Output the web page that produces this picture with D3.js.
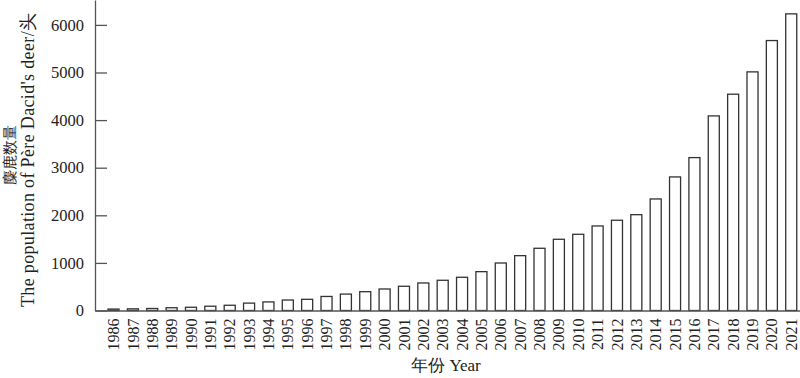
<!DOCTYPE html>
<html>
<head>
<meta charset="utf-8">
<script src="https://cdn.jsdelivr.net/npm/d3@7"></script>
<style>
  body { margin: 0; background: #fff; }
  svg { display: block; font-family: "Liberation Serif", "Times New Roman", serif; }
</style>
</head>
<body>
<div id="chart"></div>
<script>
const years = ["1986","1987","1988","1989","1990","1991","1992","1993","1994","1995",
  "1996","1997","1998","1999","2000","2001","2002","2003","2004","2005",
  "2006","2007","2008","2009","2010","2011","2012","2013","2014","2015",
  "2016","2017","2018","2019","2020","2021"]
const population = [30, 35, 42, 58, 68, 90, 110, 155, 180, 220,
  235, 295, 345, 395, 452, 509, 578, 635, 698, 816,
  998, 1152, 1307, 1496, 1601, 1776, 1896, 2013, 2343, 2806,
  3212, 4088, 4544, 5013, 5671, 6232]
const yTicks = [0, 1000, 2000, 3000, 4000, 5000, 6000]

const axisColor = "#555"
const barStroke = "#333"
const textColor = "#222"

const width = 800
const height = 378
const margin = { top: 0, right: 0, bottom: 67.5, left: 95 }
const baseY = height - margin.bottom

const svg = d3.select("#chart")
  .append("svg")
    .attr("width", width)
    .attr("height", height)

// scales
const xScale = d3.scaleBand()
  .domain(years)
  .range([margin.left, width - margin.right])
  .paddingInner(0.43)
  .paddingOuter(0.42)
  .align(0.8)

const yScale = d3.scaleLinear()
  .domain([0, 6523])
  .range([baseY, margin.top])

// bars
svg.append("g")
  .selectAll("rect")
  .data(years)
  .join("rect")
    .attr("x", d => xScale(d))
    .attr("y", (d, i) => yScale(population[i]))
    .attr("width", xScale.bandwidth())
    .attr("height", (d, i) => baseY - yScale(population[i]))
    .attr("fill", "#fff")
    .attr("stroke", barStroke)
    .attr("stroke-width", 1.3)

// y axis, ticks pointing inward
const yAxis = svg.append("g")
  .attr("transform", `translate(${margin.left},0)`)
  .call(d3.axisRight(yScale)
    .tickValues(yTicks)
    .tickSize(12)
    .tickSizeOuter(0)
    .tickFormat(d3.format("d")))
yAxis.select(".domain").attr("stroke", axisColor).attr("stroke-width", 1.3)
yAxis.selectAll(".tick line").attr("stroke", axisColor).attr("stroke-width", 1.3)
yAxis.selectAll(".tick text")
  .attr("x", -11)
  .attr("text-anchor", "end")
  .attr("fill", textColor)
  .style("font-size", "16.5px")
  .style("font-family", "Liberation Serif, serif")

// x axis, no ticks, rotated labels
const xAxis = svg.append("g")
  .attr("transform", `translate(0,${baseY})`)
  .call(d3.axisBottom(xScale).tickSize(0).tickSizeOuter(0))
xAxis.select(".domain").attr("stroke", axisColor).attr("stroke-width", 1.3)
xAxis.selectAll(".tick text")
  .attr("transform", "rotate(-90)")
  .attr("x", -8)
  .attr("y", 0)
  .attr("dy", "0.35em")
  .attr("text-anchor", "end")
  .attr("fill", textColor)
  .style("font-size", "16px")
  .style("font-family", "Liberation Serif, serif")

// axis titles
svg.append("text")
  .attr("x", 446)
  .attr("y", 371)
  .attr("text-anchor", "middle")
  .attr("fill", textColor)
  .style("font-size", "17px")
  .text("年份 Year")

svg.append("text")
  .attr("transform", "translate(15,155) rotate(-90)")
  .attr("text-anchor", "middle")
  .attr("fill", textColor)
  .style("font-size", "15px")
  .text("麋鹿数量")

svg.append("text")
  .attr("transform", "translate(34,160) rotate(-90)")
  .attr("text-anchor", "middle")
  .attr("fill", textColor)
  .attr("textLength", 294)
  .attr("lengthAdjust", "spacing")
  .style("font-size", "18px")
  .text("The population of Père Dacid's deer/头")
</script>
</body>
</html>
